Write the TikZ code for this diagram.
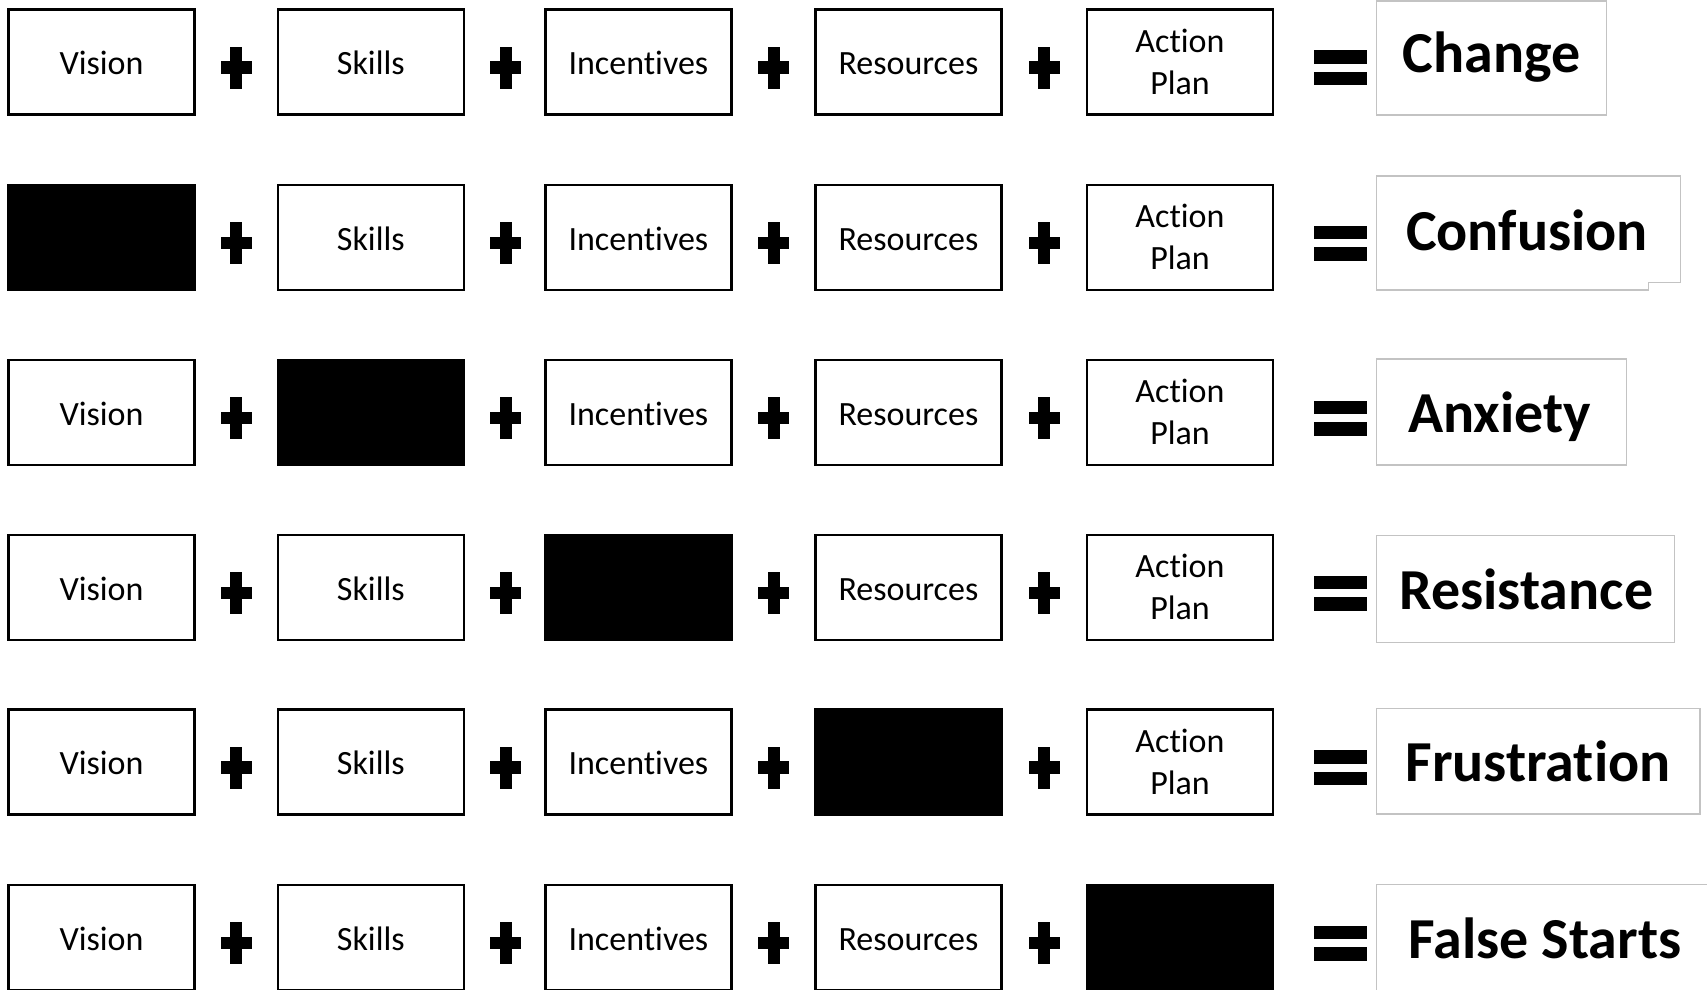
\documentclass[tikz,border=0pt]{standalone}
\usepackage{fontspec}
\setmainfont[Ligatures={NoCommon,NoContextual}]{Carlito}
\definecolor{resgray}{RGB}{195,195,195}
\begin{document}
\begin{tikzpicture}[x=1pt,y=-1pt,
  cell/.style={draw=black, line width=2.5pt, minimum width=186pt, minimum height=105pt, inner sep=0pt, fill=white},
  blk/.style={cell, fill=black},
  lbl/.style={font=\fontsize{34}{41}\selectfont, inner sep=0pt, anchor=base},
  res/.style={draw=resgray, line width=1.5pt},
  reslbl/.style={font=\fontsize{58}{70}\selectfont\bfseries, inner sep=0pt, anchor=base},
  plussign/.pic={\fill (-6,-21) rectangle (6,21); \fill (-15.5,-6.2) rectangle (15.5,6.2);},
  eqsign/.pic={\fill (-26.5,-17.5) rectangle (26.5,-4); \fill (-26.5,4) rectangle (26.5,17.5);}
]
\fill[white] (0,0) rectangle (1707,989);
\useasboundingbox (0,0) rectangle (1707,989);
\clip (0,0) rectangle (1707,989);

\foreach \r/\yc/\miss in {1/62/0, 2/237.5/1, 3/412.5/2, 4/587.5/3, 5/762/4, 6/937.5/5}{
  \foreach \c/\xc/\txt in {1/101.5/Vision, 2/370.8/Skills, 3/638.4/{Incent\kern0pt ives}, 4/908.4/Resources}{
    \ifnum\c=\miss
      \node[blk] (b\r-\c) at (\xc,\yc) {};
    \else
      \node[cell] (b\r-\c) at (\xc,\yc) {};
      \node[lbl] (t\r-\c) at ([yshift=-12.8pt]b\r-\c.center) {\txt};
    \fi
  }
  \ifnum\miss=5
    \node[blk] (b\r-5) at (1180,\yc) {};
  \else
    \node[cell] (b\r-5) at (1180,\yc) {};
    \node[lbl] (ta\r) at ([yshift=9.7pt]b\r-5.center) {Act\kern0pt ion};
    \node[lbl] (tp\r) at ([yshift=-32.3pt]b\r-5.center) {Plan};
  \fi
  \foreach \px in {236,505.5,773.5,1044}{
    \pic at (\px,\yc+5.5) {plussign};
  }
  \pic at (1340.7,\yc+5.5) {eqsign};
}

% results
\draw[res] (1376.7,0.8) rectangle (1606.7,115);
\node[reslbl] (r1) at (1491.7,72.7) {Change};

\draw[res] (1376.7,176) -- (1680.3,176) -- (1680.3,282.3) -- (1648.7,282.3) -- (1648.7,290) -- (1376.7,290) -- cycle;
\node[reslbl] (r2) at (1527,250.5) {Confusion};

\draw[res] (1376.7,359) rectangle (1626.7,465);
\node[reslbl] (r3) at (1499.7,432) {Anxiety};

\draw[res] (1376.7,535.7) rectangle (1674.7,642.3);
\node[reslbl] (r4) at (1526.3,609) {Resistance};

\draw[res] (1376.7,708.3) rectangle (1700,814);
\node[reslbl] (r5) at (1538,781.5) {Frustrat\kern0pt ion};

\draw[res] (1376.7,884.3) rectangle (1712,1000);
\node[reslbl] (r6) at (1545,958) {False Starts};
\end{tikzpicture}
\end{document}
